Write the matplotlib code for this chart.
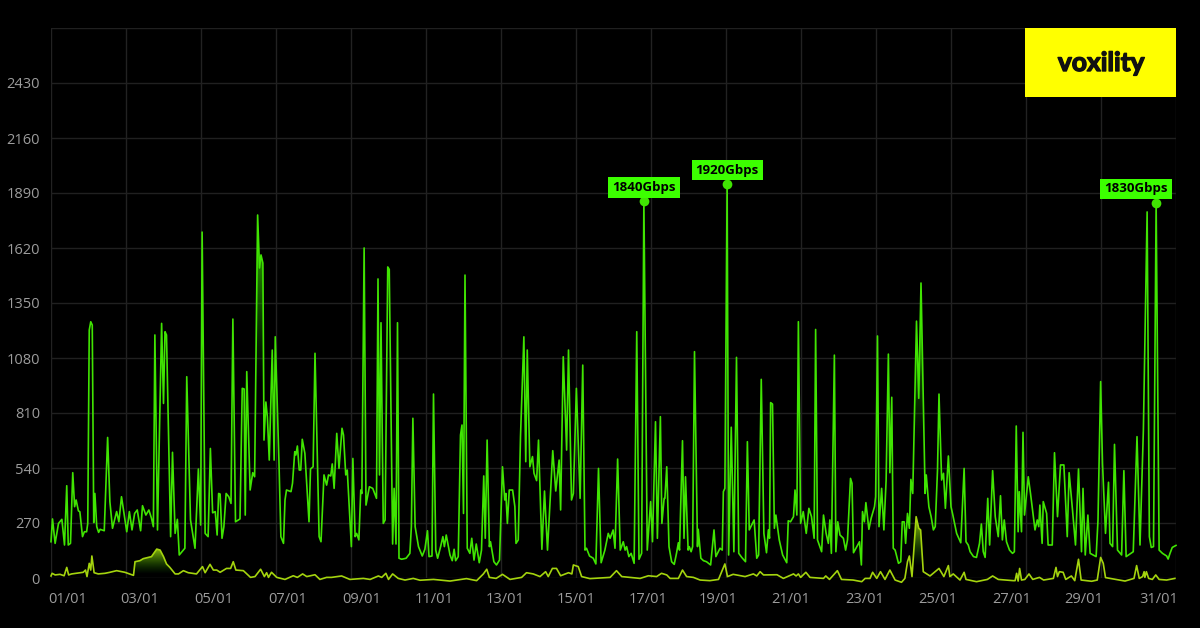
import numpy as np
import matplotlib
matplotlib.use('Agg')
import matplotlib.pyplot as plt
import matplotlib.patheffects as pe
from matplotlib.colors import to_rgb
from matplotlib.patches import Polygon, Rectangle

# values (days since 01/01, Gbps)
green_days = [0, .04, .11, .20, .29, .36, .42, .46, .52, .58, .63, .67, .73, .77, .84, .89, .95, .98, 1.02, 1.06,
              1.10, 1.14, 1.17, 1.22, 1.27, 1.31, 1.42, 1.51, 1.57, 1.64, 1.75, 1.81, 1.88, 2.02, 2.09, 2.16, 2.23,
              2.30, 2.39, 2.44, 2.53, 2.61, 2.68, 2.73, 2.77, 2.84, 2.95, 3.00, 3.04, 3.08, 3.19, 3.24, 3.31, 3.37,
              3.42, 3.57, 3.62, 3.72, 3.84, 3.93, 3.99, 4.03, 4.11, 4.19, 4.25, 4.31, 4.38, 4.43, 4.47, 4.51, 4.56,
              4.61, 4.67, 4.74, 4.80, 4.85, 4.92, 5.04, 5.10, 5.15, 5.18, 5.22, 5.31, 5.38, 5.43, 5.51, 5.56, 5.60,
              5.65, 5.68, 5.73, 5.77, 5.82, 5.90, 5.95, 5.98, 6.08, 6.13, 6.20, 6.24, 6.28, 6.40, 6.44, 6.50, 6.53,
              6.57, 6.62, 6.66, 6.70, 6.77, 6.88, 6.92, 6.99, 7.04, 7.15, 7.20, 7.28, 7.35, 7.40, 7.46, 7.50, 7.55,
              7.62, 7.68, 7.76, 7.80, 7.86, 7.90, 8.01, 8.05, 8.11, 8.15, 8.21, 8.26, 8.29, 8.35, 8.40, 8.49, 8.58,
              8.68, 8.72, 8.76, 8.80, 8.86, 8.91, 8.98, 9.02, 9.11, 9.15, 9.20, 9.24, 9.28, 9.35, 9.47, 9.57, 9.61,
              9.65, 9.71, 9.80, 9.90, 9.97, 10.04, 10.08, 10.16, 10.20, 10.26, 10.31, 10.39, 10.45, 10.49, 10.54,
              10.64, 10.70, 10.75, 10.79, 10.86, 10.92, 10.96, 11.00, 11.04, 11.10, 11.17, 11.22, 11.28, 11.34,
              11.42, 11.48, 11.54, 11.58, 11.63, 11.69, 11.72, 11.81, 11.88, 11.96, 12.04, 12.10, 12.13, 12.17,
              12.22, 12.31, 12.37, 12.40, 12.46, 12.52, 12.61, 12.66, 12.70, 12.77, 12.84, 12.88, 12.95, 13.00,
              13.09, 13.16, 13.24, 13.38, 13.46, 13.55, 13.59, 13.66, 13.75, 13.80, 13.88, 13.93, 14.01, 14.11,
              14.18, 14.24, 14.28, 14.36, 14.46, 14.53, 14.60, 14.67, 14.77, 14.86, 14.91, 14.99, 15.04, 15.11,
              15.18, 15.26, 15.31, 15.35, 15.41, 15.47, 15.55, 15.62, 15.68, 15.75, 15.81, 15.90, 15.99, 16.04,
              16.12, 16.17, 16.25, 16.29, 16.35, 16.37, 16.42, 16.48, 16.55, 16.62, 16.68, 16.73, 16.76, 16.84,
              16.88, 16.92, 16.99, 17.02, 17.07, 17.11, 17.16, 17.24, 17.26, 17.33, 17.40, 17.48, 17.59, 17.68,
              17.73, 17.84, 17.90, 17.93, 17.97, 18.03, 18.07, 18.14, 18.21, 18.28, 18.34, 18.42, 18.52, 18.57,
              18.62, 18.75, 18.82, 18.87, 18.94, 19.01, 19.08, 19.13, 19.16, 19.19, 19.24, 19.29, 19.33, 19.42,
              19.51, 19.62, 19.66, 19.72, 19.80, 19.84, 19.89, 19.93, 19.99, 20.06, 20.14, 20.21, 20.28, 20.35,
              20.39, 20.44, 20.55, 20.60, 20.67, 20.73, 20.77, 20.81, 20.89, 20.93, 20.98, 21.04, 21.13, 21.19,
              21.24, 21.32, 21.36, 21.40, 21.56, 21.61, 21.64, 21.69, 21.73, 21.81, 21.87, 21.96, 21.99, 22.04,
              22.08, 22.15, 22.21, 22.27, 22.33, 22.37, 22.42, 22.46, 22.51, 22.60, 22.66, 22.70, 22.75, 22.79,
              22.84, 22.89, 22.93, 22.98, 23.08, 23.14, 23.20, 23.31, 23.34, 23.41, 23.47, 23.53, 23.58, 23.64,
              23.68, 23.75, 23.80, 23.85, 23.93, 24.00, 24.04, 24.15, 24.26, 24.35, 24.40, 24.46, 24.51, 24.60,
              24.68, 24.76, 24.81, 24.86, 24.91, 24.98, 25.03, 25.11, 25.18, 25.26, 25.32, 25.37, 25.42, 25.48,
              25.56, 25.64, 25.69, 25.74, 25.79, 25.82, 25.88, 25.92, 25.96, 26.06, 26.12, 26.24, 26.30, 26.34,
              26.37, 26.43, 26.46, 26.55, 26.59, 26.70, 26.76, 26.84, 26.92, 27.01, 27.10, 27.15, 27.24, 27.32,
              27.40, 27.48, 27.52, 27.58, 27.65, 27.71, 27.87, 27.92, 27.99, 28.04, 28.12, 28.20, 28.24, 28.31,
              28.36, 28.44, 28.55, 28.61, 28.67, 28.86, 28.96, 29.04, 29.13, 29.23, 29.29, 29.34, 29.40, 29.47,
              29.55, 29.64, 29.75, 29.79, 29.84, 29.90, 29.97, 30]
green_gbps = [178, 290, 170, 268, 288, 162, 453, 162, 170, 517, 350, 383, 330, 325, 203, 227, 227, 268, 1217, 1258,
              1242, 272, 415, 252, 224, 239, 232, 690, 375, 244, 326, 276, 399, 227, 326, 236, 317,
              334, 232, 355, 309, 334, 293, 252, 1193, 236, 1250, 857, 1209, 1193, 203, 617, 219, 288,
              113, 146, 988, 285, 146, 535, 260, 1698, 219, 203, 636, 320, 326, 211, 415, 412, 195,
              252, 415, 399, 366, 1271, 276, 290, 931, 928, 309, 1013, 432, 517, 497, 1782, 1522, 1586,
              1546, 677, 864, 790, 579, 1119, 579, 1184, 563, 203, 170, 383, 432, 424, 465, 620, 604,
              648, 530, 530, 681, 612, 276, 535, 546, 1103, 203, 178, 506, 456, 506, 501, 560, 440,
              710, 538, 735, 702, 506, 530, 154, 587, 203, 219, 187, 432, 415, 1620, 358, 448, 440,
              391, 1468, 506, 1253, 268, 285, 1527, 1515, 167, 440, 167, 1253, 97, 92, 97, 121, 252,
              784, 252, 154, 108, 141, 232, 105, 108, 903, 137, 97, 154, 203, 154, 211,
              113, 85, 141, 85, 105, 702, 751, 317, 1487, 146, 121, 195, 88, 167,
              75, 137, 501, 195, 677, 154, 178, 80, 64, 88, 546, 383, 415, 268,
              432, 432, 350, 170, 187, 694, 1184, 571, 1119, 546, 596, 514, 478, 677,
              141, 427, 137, 625, 427, 579, 334, 1086, 628, 1119, 383, 415, 931, 391,
              1045, 137, 146, 108, 97, 69, 538, 75, 137, 219, 195, 236, 146, 584,
              137, 178, 137, 154, 105, 121, 72, 1209, 92, 121, 1850, 137, 375, 178,
              767, 195, 792, 268, 391, 391, 546, 154, 80, 67, 121, 173, 137, 674,
              195, 497, 137, 154, 129, 154, 1111, 154, 239, 97, 85, 80, 64, 236,
              105, 146, 137, 424, 440, 1934, 113, 740, 129, 1083, 121, 101, 80, 669,
              236, 285, 97, 113, 975, 219, 124, 236, 195, 861, 854, 244, 309, 187,
              113, 75, 281, 276, 301, 432, 309, 1258, 268, 326, 219, 342, 301, 195,
              1220, 187, 129, 309, 219, 170, 285, 121, 1094, 129, 276, 211, 195, 137,
              187, 489, 465, 124, 178, 64, 326, 276, 370, 239, 293, 350, 399, 1188,
              252, 440, 236, 481, 1099, 517, 887, 146, 137, 72, 80, 276, 276, 170,
              317, 244, 484, 415, 1261, 882, 1448, 415, 506, 350, 301, 236, 252, 530,
              903, 481, 514, 342, 599, 350, 317, 219, 173, 538, 178, 162, 129, 105,
              101, 170, 265, 129, 101, 391, 162, 527, 301, 203, 404, 187, 285, 178,
              137, 121, 129, 746, 227, 424, 227, 715, 309, 497, 415, 236, 285, 252,
              358, 170, 375, 317, 162, 162, 615, 301, 555, 555, 203, 517, 334, 162,
              535, 129, 440, 113, 309, 121, 105, 285, 964, 563, 219, 470, 170, 154,
              656, 137, 113, 527, 105, 129, 694, 162, 726, 1797, 203, 150, 154, 1841,
              137, 121, 108, 93, 121, 150, 157, 160]

yellow_days = [0, .03, .11, .24, .35, .42, .47, .55, .86, .92, .96, 1.02, 1.06, 1.09, 1.15, 1.26, 1.44, 1.57, 1.75,
               1.97, 2.20, 2.24, 2.37, 2.46, 2.68, 2.82, 2.91, 3.00, 3.08, 3.17, 3.31, 3.40, 3.53, 3.66, 3.88, 4.04,
               4.11, 4.24, 4.33, 4.42, 4.51, 4.68, 4.79, 4.86, 4.93, 5.13, 5.32, 5.44, 5.59, 5.69, 5.75, 5.80, 5.88,
               6.02, 6.24, 6.46, 6.57, 6.71, 6.82, 7.04, 7.17, 7.35, 7.48, 7.75, 7.97, 8.33, 8.51, 8.73, 8.82, 8.93,
               9.00, 9.11, 9.26, 9.44, 9.66, 9.84, 10.20, 10.64, 11.08, 11.35, 11.53, 11.62, 11.69, 11.87, 12.04,
               12.24, 12.55, 12.68, 12.86, 13.04, 13.19, 13.26, 13.37, 13.48, 13.59, 13.80, 13.89, 13.93, 14.06,
               14.15, 14.37, 14.91, 15.08, 15.22, 15.71, 15.93, 16.15, 16.28, 16.42, 16.51, 16.73, 16.84, 16.95,
               17.13, 17.31, 17.57, 17.80, 17.97, 18.04, 18.19, 18.51, 18.73, 18.82, 18.91, 19.00, 19.36, 19.53,
               19.80, 19.87, 19.93, 19.99, 20.13, 20.24, 20.60, 20.66, 20.76, 20.97, 21.08, 21.39, 21.62, 21.71,
               21.84, 21.91, 22.02, 22.12, 22.24, 22.37, 22.51, 22.68, 22.77, 22.84, 22.89, 22.96, 23.07, 23.14,
               23.19, 23.26, 23.44, 23.68, 23.81, 23.93, 23.97, 24.06, 24.24, 24.35, 24.40, 24.68, 24.97, 25.11,
               25.26, 25.66, 25.71, 25.75, 25.79, 25.83, 25.88, 25.97, 26.08, 26.18, 26.36, 26.47, 26.73, 26.80,
               26.84, 26.89, 26.99, 27.06, 27.21, 27.30, 27.40, 27.47, 27.75, 27.90, 27.99, 28.06, 28.12, 28.64,
               28.88, 28.95, 29.02, 29.11, 29.15, 29.17, 29.21, 29.27, 29.37, 29.46, 29.55, 29.75, 29.97]
yellow_gbps = [10, 23, 15, 18, 11, 52, 15, 20, 28, 39, 7, 72, 39, 108, 26, 20, 23, 28, 36,
               28, 13, 80, 85, 95, 105, 142, 137, 105, 69, 52, 20, 20, 36, 26, 20, 56,
               26, 67, 39, 39, 28, 47, 47, 80, 39, 36, 3, 7, 43, 7, 26, 3, 28,
               3, -7, 11, 3, 20, 7, 16, -7, 3, 3, 10, -7, -2, -7, 10, 3, 23,
               -7, 20, -2, -10, -2, -11, -7, -15, -3, -13, 20, 43, 3, -2, 18,
               -7, 3, 26, 20, 7, 31, 7, 47, 47, 11, 26, 20, 64, 56,
               7, -3, 3, 36, 7, -2, 11, 7, 23, 15, -2, -2, 39, 7,
               3, -10, -13, -7, 69, 7, 18, 7, 20, 10, 31, 15, 16, -2,
               20, 10, 20, 3, 28, 3, -2, 10, -7, 36, -7, -10, -18, -2,
               -2, 28, -2, 31, -7, 39, -10, -21, -2, 80, 108, 7, 301, 244,
               236, 31, 10, 47, 7, 61, 7, 20, -10, 28, -7, -18, -7, 10,
               -7, -13, -13, 23, -15, 47, -10, -7, 20, -7, 3, -10, -2, 52,
               7, 31, 28, -7, 10, -13, 92, -10, -16, -10, 101, 72, 2, -15,
               -2, 61, -2, 7, 31, 3, 31, -2, -7, 15, -7, -10, -2]

y_ticks = [0, 270, 540, 810, 1080, 1350, 1620, 1890, 2160, 2430, 2700]
y_labels = ['0', '270', '540', '810', '1080', '1350', '1620', '1890', '2160', '2430', '']
grid_days = list(range(0, 31, 2))
date_pos = [.44, 2.37, 4.35, 6.32, 8.28, 10.21, 12.1, 14.01, 15.92, 17.79, 19.72, 21.69, 23.65, 25.61, 27.55, 29.55]
date_labels = ['01/01', '03/01', '05/01', '07/01', '09/01', '11/01', '13/01', '15/01',
               '17/01', '19/01', '21/01', '23/01', '25/01', '27/01', '29/01', '31/01']
peak_days = [15.81, 18.03, 29.47]
peak_gbps = [1850, 1934, 1841]
peak_labels = ['1840Gbps', '1920Gbps', '1830Gbps']
peak_shift = [0, 0, -20]

GREEN = '#40e402'
YELLOW = '#a4d40e'
LABEL_GREEN = '#3cff00'

plt.rcParams['font.family'] = ['Open Sans', 'DejaVu Sans']

fig = plt.figure(figsize=(12, 6.28), dpi=100, facecolor='black')
ax = fig.add_axes([51 / 1200, 1 - 578 / 628, 1125 / 1200, 550 / 628], facecolor='black')


def gradient_fill(days, vals, start, end, top_col, low_col, low, top):
    # vertical fade from the line colour to nothing, only under one stretch of the line
    days = np.array(days)
    vals = np.array(vals)
    keep = (days >= start) & (days <= end)
    pts = list(zip(days[keep], vals[keep]))
    poly = Polygon([(days[keep][0], 0)] + pts + [(days[keep][-1], 0)], transform=ax.transData, fc='none', ec='none')
    ax.add_patch(poly)
    rgba = np.zeros((100, 2, 4))
    rgba[..., :3] = np.linspace(to_rgb(top_col), to_rgb(low_col), 100)[:, None, :]
    rgba[..., 3] = np.linspace(.95, 0, 100)[:, None]
    im = ax.imshow(rgba, extent=(start, end, low, top), aspect='auto', origin='upper', zorder=1.5)
    im.set_clip_path(poly)


gradient_fill(yellow_days, yellow_gbps, 2.2, 3.55, YELLOW, '#128000', 20, 150)
gradient_fill(yellow_days, yellow_gbps, 22.96, 23.3, YELLOW, '#128000', 60, 300)
gradient_fill(green_days, green_gbps, 5.43, 5.68, GREEN, '#1a8000', 950, 1800)
gradient_fill(green_days, green_gbps, 22.98, 23.31, GREEN, '#1a8000', 650, 1450)

ax.plot(green_days, green_gbps, color=GREEN, lw=1.2, zorder=3, clip_on=False)
ax.plot(yellow_days, yellow_gbps, color=YELLOW, lw=1.2, zorder=4, clip_on=False)

ax.set_xlim(0, 30)
ax.set_ylim(0, 2700)

ax.set_yticks(y_ticks, y_labels)
ax.set_xticks(date_pos, date_labels)
ax.set_xticks(grid_days, minor=True)
ax.grid(False)
ax.grid(True, which='minor', axis='x', color='#222222', lw=1)
ax.grid(True, which='major', axis='y', color='#202020', lw=1)
ax.set_axisbelow(True)
ax.tick_params(axis='both', which='both', length=0, labelcolor='#9c9c9c', labelsize=10.5)
ax.tick_params(axis='y', pad=8)
ax.tick_params(axis='x', pad=10)
for s in ax.spines.values():
    s.set_visible(False)

for d, v, txt, shift in zip(peak_days, peak_gbps, peak_labels, peak_shift):
    ax.plot([d], [v], 'o', color=GREEN, ms=7, mew=0, zorder=5)
    ax.annotate(txt, (d, v), xytext=(shift, 14), textcoords='offset pixels', ha='center', va='center',
                fontsize=9.5, fontweight='bold', color='black', zorder=6,
                bbox=dict(boxstyle='square,pad=0.3', fc=LABEL_GREEN, ec='none'))

# logo block, top right corner
fig.add_artist(Rectangle((1025 / 1200, 1 - 97 / 628), 151 / 1200, 69 / 628, transform=fig.transFigure,
                         fc='#ffff00', ec='none', zorder=10))
fig.text(1101 / 1200, 1 - 63 / 628, 'voxility', family='Lato', fontweight='bold', fontsize=19,
         color='#111111', ha='center', va='center', zorder=11,
         path_effects=[pe.withStroke(linewidth=1, foreground='#111111')])

fig.savefig('out.png', dpi=100, facecolor='black')
